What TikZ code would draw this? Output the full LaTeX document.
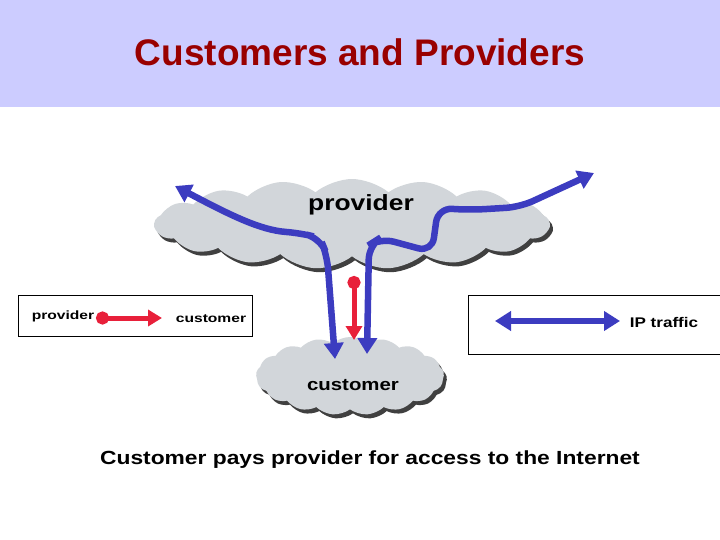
\documentclass[tikz,border=0pt]{standalone}
\usepackage{fontspec}
\setmainfont{Liberation Sans}
\usetikzlibrary{shapes.symbols,arrows.meta}
\definecolor{band}{HTML}{CCCCFF}
\definecolor{ttl}{HTML}{990000}
\definecolor{cloudg}{HTML}{D2D6DA}
\definecolor{flow}{HTML}{3C3CC0}
\definecolor{rel}{HTML}{E8203A}
\tikzset{
 cl/.style={cloud, cloud puffs=17, cloud puff arc=80, fill=cloudg, inner sep=0pt},
 shd/.style={cloud, cloud puffs=17, cloud puff arc=80, fill=black!75, inner sep=0pt},
 flowarr/.style={draw=flow, line width=6.5pt, {Triangle[length=16pt,width=19pt]}-{Triangle[length=16pt,width=19pt]}, rounded corners=14pt},
 relarr/.style={draw=rel, line width=5pt, {Circle[length=13pt]}-{Triangle[length=14pt,width=16pt]}},
 lbl/.style={font=\bfseries\fontsize{12}{14}\selectfont, inner sep=1pt, xscale=1.3},
 box/.style={draw=black, line width=0.8pt, fill=white}
}
\begin{document}
\begin{tikzpicture}[x=1pt,y=-1pt]
\useasboundingbox (0,0) rectangle (720,540);
\fill[band] (0,0) rectangle (720,107);
\node[text=ttl, font=\bfseries\fontsize{37}{40}\selectfont] (title) at (360,52) {Customers and Providers};
% provider cloud
\node[shd, minimum width=395pt, minimum height=90pt] (pshd) at (355,228) {};
\node[cl, minimum width=395pt, minimum height=90pt] (pc) at (352,224) {};
\node[font=\bfseries\fontsize{22}{24}\selectfont, xscale=1.2] (plbl) at (361,205) {provider};
% customer cloud
\node[shd, minimum width=188pt, minimum height=78pt] (cshd) at (353,380) {};
\node[cl, minimum width=188pt, minimum height=78pt] (cc) at (350,376) {};
\node[font=\bfseries\fontsize{17}{19}\selectfont, xscale=1.2] (clbl) at (353,385) {customer};
% legend boxes
\node[box, minimum width=234pt, minimum height=41pt, anchor=north west] (lbox) at (18,295) {};
\node[box, minimum width=260pt, minimum height=59pt, anchor=north west] (rbox) at (468,295) {};
\node[lbl] (lp) at (63,316) {provider};
\node[lbl] (lc) at (211,319) {customer};
\coordinate (ra) at (96,318); \coordinate (rb) at (162,318);
\draw[relarr] (ra) -- (rb);
\node[font=\bfseries\fontsize{14}{16}\selectfont, xscale=1.22] (ip) at (664,322) {IP traffic};
\coordinate (fa) at (495,321); \coordinate (fb) at (620,321);
\draw[flowarr] (fa) -- (fb);
% flows
\coordinate (f1a) at (175,186); \coordinate (f1b) at (335,359);
\draw[flowarr] (f1a) .. controls (230,215) and (260,230) .. (300,233) -- (320,238) -- (327,255) -- (f1b);
\coordinate (f2a) at (367,354); \coordinate (f2b) at (594,173);
\draw[flowarr] (f2a) -- (369,245) -- (380,238) -- (432,252) -- (438,208) -- (470,210) -- (520,207) -- (f2b);
\coordinate (r1) at (354,276); \coordinate (r2) at (354,340);
\draw[relarr] (r1) -- (r2);
\node[font=\bfseries\fontsize{19}{21}\selectfont, xscale=1.2] (foot) at (370,460) {Customer pays provider for access to the Internet};
\end{tikzpicture}
\end{document}
